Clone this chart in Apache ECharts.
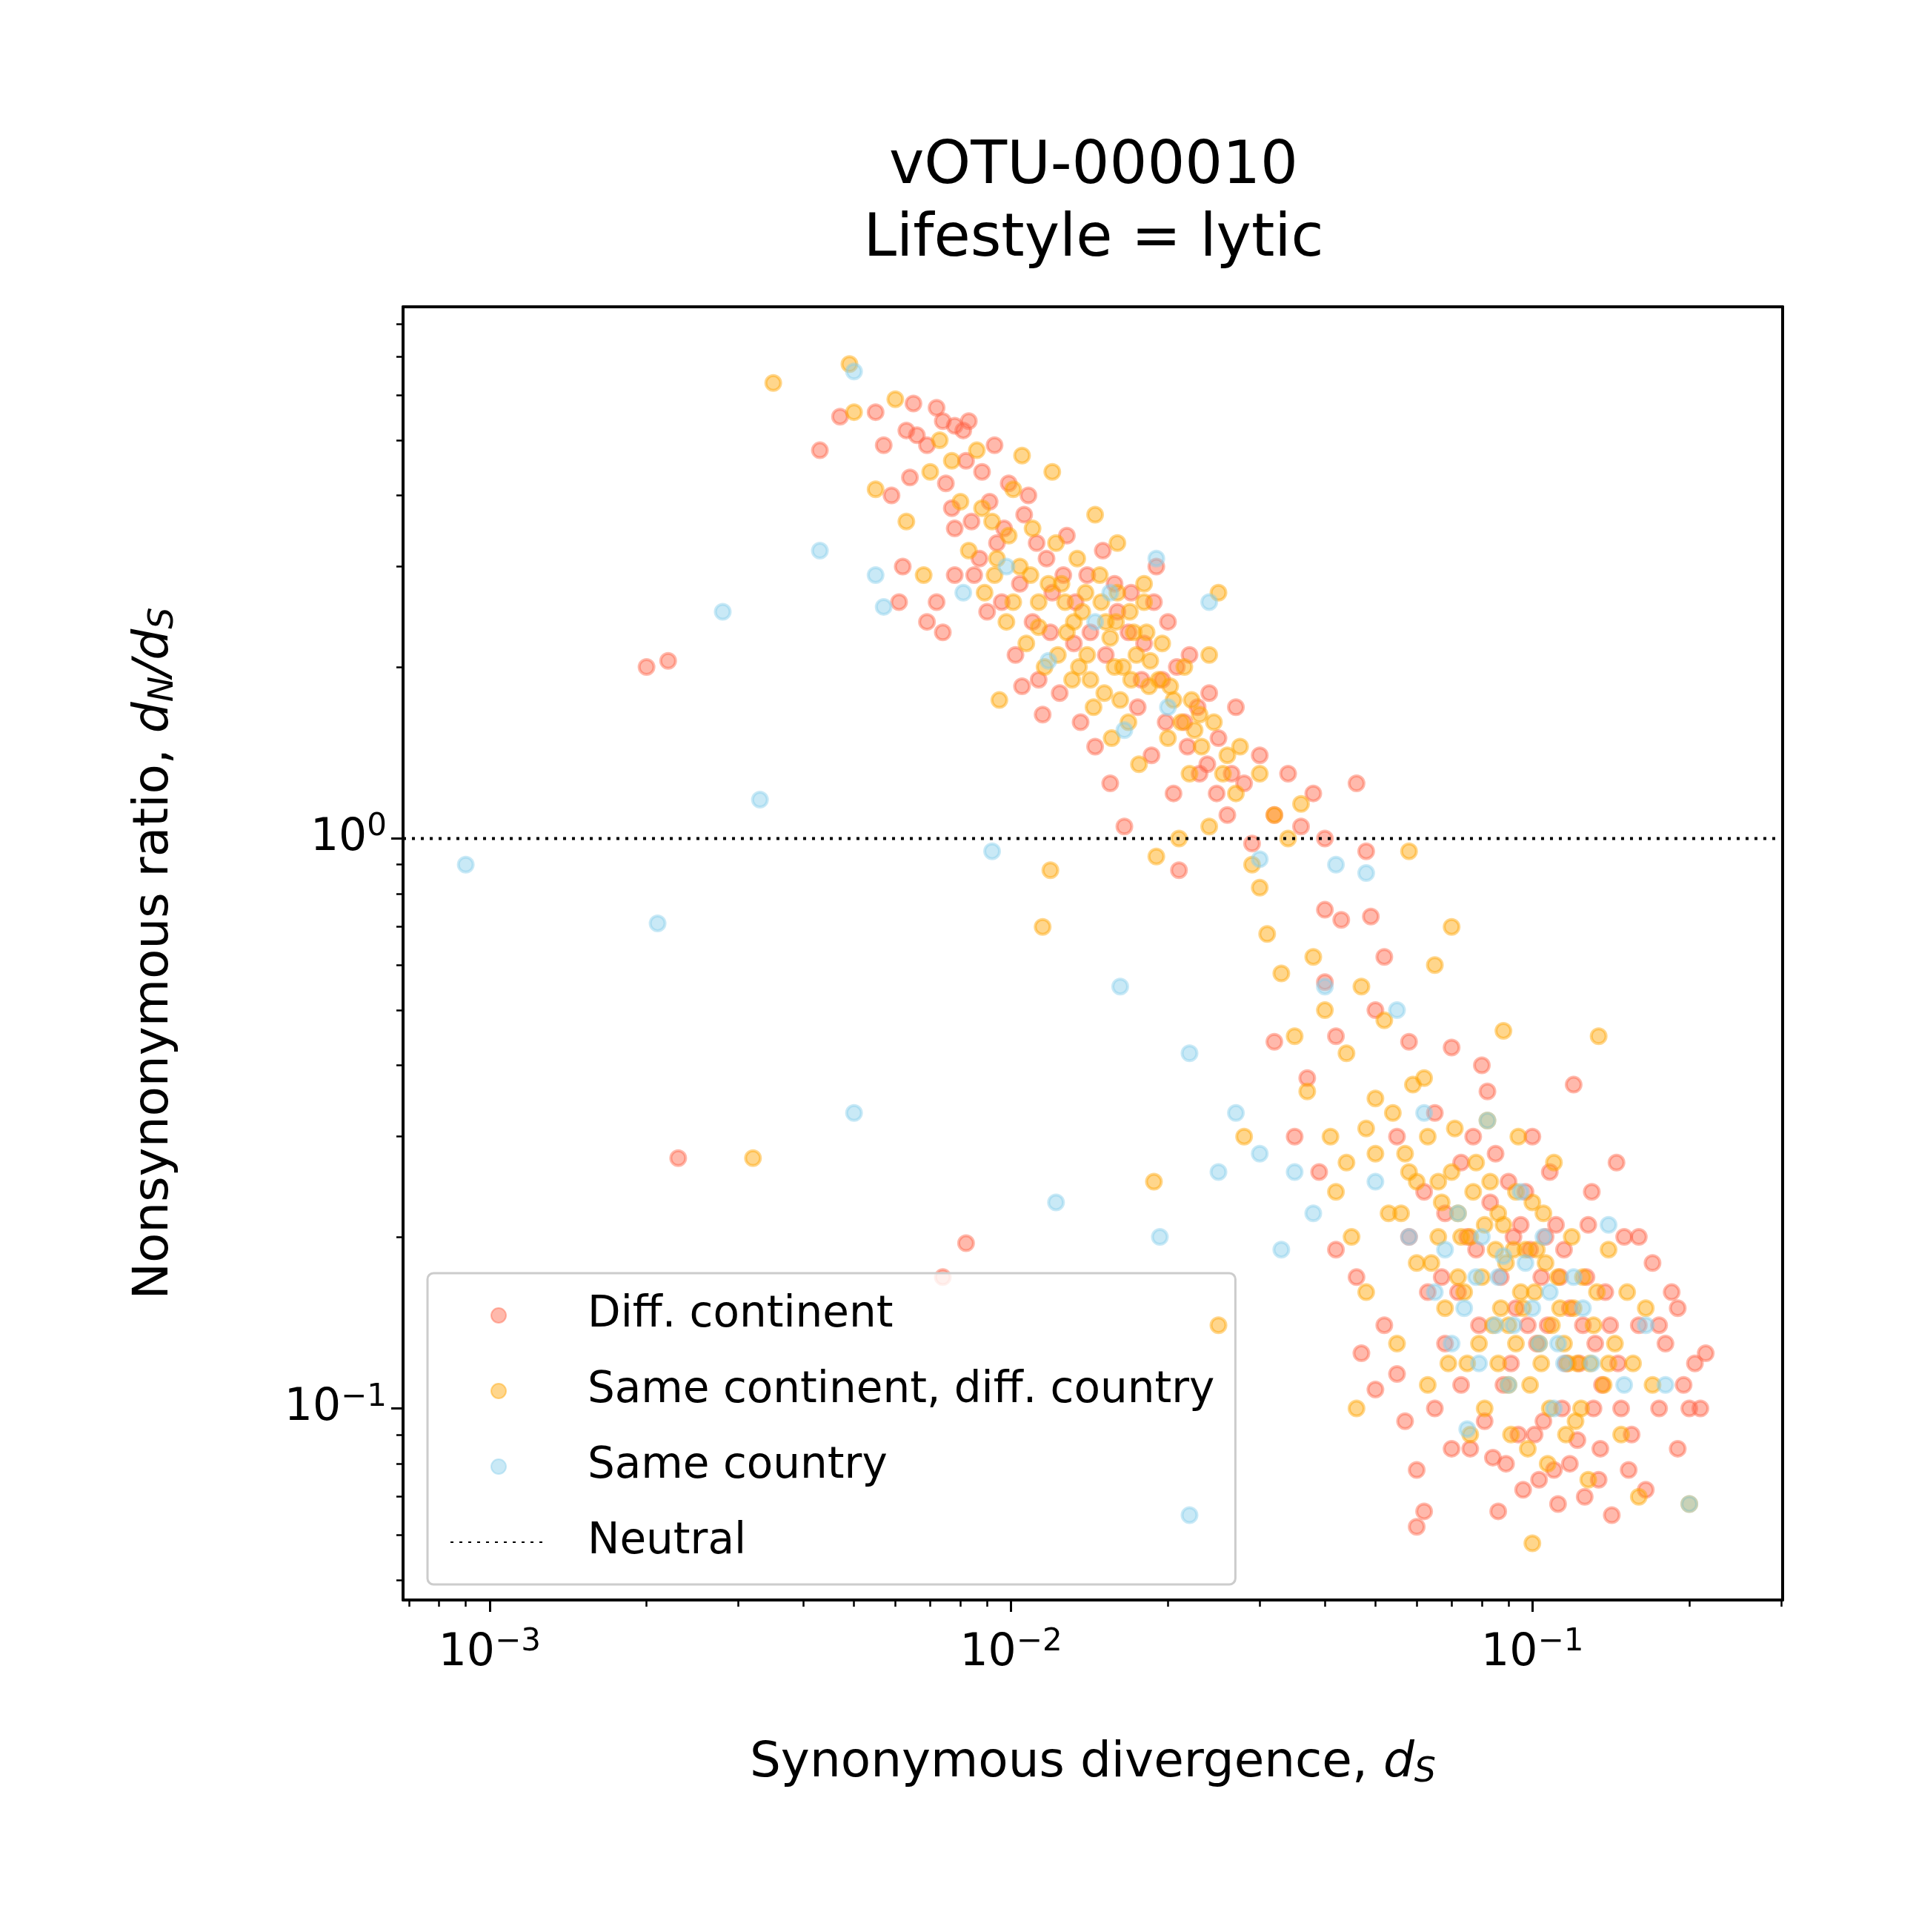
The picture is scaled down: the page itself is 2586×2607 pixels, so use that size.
<!DOCTYPE html>
<html><head><meta charset="utf-8">
<script src="https://cdn.jsdelivr.net/npm/echarts@6/dist/echarts.min.js"></script>
<style>html,body{margin:0;background:#fff}#c{width:2586px;height:2607px}</style>
</head><body><div id="c"></div>
<script>
// [dS, dN/dS]
var diffContinent = [
[0.002,2.0],[0.0022,2.05],[0.0023,0.275],[0.0043,4.8],[0.0047,5.5],[0.0055,5.6],[0.0057,4.9],[0.0059,4.0],[0.0061,2.6],[0.0062,3.0],
[0.0065,5.8],[0.0066,5.1],[0.0069,4.9],[0.0072,5.7],[0.0074,5.4],[0.0075,4.2],[0.0077,3.8],[0.0078,5.3],[0.0081,5.2],[0.0083,5.4],
[0.0072,2.6],[0.0074,2.3],[0.0078,3.5],[0.0082,4.6],[0.0085,2.9],[0.0088,4.4],[0.0091,3.9],[0.0094,3.3],[0.0096,2.6],[0.0099,4.2],
[0.0102,2.1],[0.0106,3.7],[0.011,2.4],[0.0113,1.9],[0.0117,3.1],[0.012,2.7],[0.0124,1.8],[0.0128,3.4],[0.0132,2.2],[0.0136,1.6],
[0.014,2.9],[0.0145,1.45],[0.015,3.2],[0.0155,1.25],[0.016,2.5],[0.0165,1.05],[0.017,2.7],[0.0175,1.7],[0.018,2.2],[0.0186,1.4],
[0.019,3.0],[0.0195,1.9],[0.02,2.4],[0.0205,1.2],[0.021,0.88],[0.0215,1.6],[0.022,2.1],[0.023,1.3],[0.024,1.8],[0.025,1.5],
[0.026,1.1],[0.027,1.7],[0.028,1.25],[0.029,0.98],[0.03,1.4],[0.032,1.1],[0.034,1.3],[0.036,1.05],[0.038,1.2],[0.04,1.0],
[0.046,1.25],[0.048,0.95],[0.04,0.75],[0.043,0.72],[0.049,0.73],[0.052,0.62],[0.05,0.5],[0.04,0.56],[0.042,0.45],[0.037,0.38],
[0.032,0.44],[0.035,0.3],[0.039,0.26],[0.042,0.19],[0.046,0.17],[0.047,0.125],[0.05,0.108],[0.052,0.14],[0.055,0.115],[0.057,0.095],
[0.06,0.078],[0.06,0.062],[0.062,0.066],[0.065,0.1],[0.068,0.13],[0.07,0.085],[0.072,0.16],[0.075,0.2],[0.077,0.3],[0.08,0.4],
[0.082,0.36],[0.084,0.082],[0.086,0.066],[0.088,0.11],[0.09,0.25],[0.093,0.15],[0.096,0.072],[0.099,0.19],[0.102,0.13],[0.105,0.095],
[0.108,0.26],[0.11,0.078],[0.113,0.17],[0.116,0.12],[0.12,0.37],[0.122,0.088],[0.125,0.14],[0.128,0.21],[0.131,0.1],[0.134,0.075],
[0.138,0.16],[0.142,0.065],[0.146,0.12],[0.15,0.2],[0.155,0.09],[0.16,0.14],[0.165,0.072],[0.17,0.18],[0.175,0.1],[0.18,0.13],
[0.185,0.16],[0.19,0.085],[0.195,0.11],[0.2,0.1],[0.205,0.12],[0.21,0.1],[0.215,0.125],[0.19,0.15],[0.175,0.14],[0.16,0.2],
[0.0074,0.17],[0.0082,0.195],[0.145,0.27],[0.13,0.24],[0.1,0.3],[0.065,0.33],[0.058,0.44],[0.07,0.43],[0.055,0.3],[0.062,0.24],
[0.0087,3.1],[0.0093,4.9],[0.0104,2.8],[0.0112,3.3],[0.0119,2.3],[0.0126,2.9],[0.0133,2.6],[0.0142,2.3],[0.0152,2.1],[0.0158,2.8],
[0.0168,2.3],[0.0178,1.9],[0.0188,2.6],[0.0198,1.6],[0.0208,2.0],[0.0218,1.45],[0.0228,1.7],[0.0238,1.35],[0.0248,1.2],[0.0265,1.3],
[0.0078,2.9],[0.0084,3.6],[0.009,2.5],[0.0097,3.5],[0.0108,4.0],[0.0064,4.3],[0.0063,5.2],[0.0069,2.4],[0.0105,1.85],[0.0115,1.65],
[0.067,0.17],[0.073,0.11],[0.079,0.14],[0.083,0.23],[0.087,0.17],[0.091,0.12],[0.095,0.21],[0.098,0.14],[0.101,0.09],[0.104,0.17],
[0.107,0.14],[0.111,0.21],[0.114,0.1],[0.118,0.15],[0.123,0.12],[0.127,0.17],[0.132,0.13],[0.136,0.11],[0.141,0.14],[0.148,0.1],
[0.076,0.085],[0.081,0.095],[0.089,0.08],[0.094,0.09],[0.103,0.075],[0.112,0.068],[0.118,0.08],[0.126,0.07],[0.135,0.085],[0.153,0.078],
[0.058,0.2],[0.063,0.16],[0.068,0.22],[0.073,0.27],[0.078,0.19],[0.085,0.28],[0.092,0.2],[0.097,0.24],[0.106,0.2],[0.115,0.19]
];
var sameContinent = [
[0.0032,0.275],[0.0035,6.3],[0.0049,6.8],[0.005,5.6],[0.0055,4.1],[0.006,5.9],[0.0063,3.6],[0.0068,2.9],[0.007,4.4],[0.0073,5.0],
[0.0077,4.6],[0.008,3.9],[0.0083,3.2],[0.0086,4.8],[0.0089,2.7],[0.0092,3.6],[0.0095,1.75],[0.0098,2.4],[0.0101,4.1],[0.0104,3.0],
[0.0107,2.2],[0.011,3.5],[0.0113,2.6],[0.0116,2.0],[0.0119,0.88],[0.0115,0.7],[0.0122,3.3],[0.0125,2.8],[0.0128,2.3],[0.0131,1.9],
[0.0134,3.1],[0.0137,2.5],[0.014,2.1],[0.0144,1.7],[0.0148,2.9],[0.0152,2.4],[0.0156,1.5],[0.016,2.7],[0.0164,2.0],[0.0168,1.6],
[0.0172,2.3],[0.0176,1.35],[0.018,2.6],[0.0184,1.85],[0.0188,0.25],[0.019,0.93],[0.0195,2.2],[0.02,1.5],[0.0205,1.75],[0.021,1.0],
[0.0215,2.0],[0.022,1.3],[0.023,1.65],[0.024,1.05],[0.025,2.7],[0.025,0.14],[0.026,1.4],[0.027,1.2],[0.028,0.3],[0.029,0.9],
[0.03,1.3],[0.03,0.82],[0.031,0.68],[0.032,1.1],[0.033,0.58],[0.034,1.0],[0.035,0.45],[0.036,1.15],[0.037,0.36],[0.038,0.62],
[0.04,0.5],[0.041,0.3],[0.042,0.24],[0.044,0.42],[0.045,0.2],[0.046,0.1],[0.047,0.55],[0.048,0.16],[0.05,0.35],[0.052,0.48],
[0.053,0.22],[0.055,0.13],[0.057,0.28],[0.058,0.95],[0.06,0.18],[0.062,0.38],[0.063,0.11],[0.065,0.6],[0.066,0.25],[0.068,0.15],
[0.07,0.7],[0.071,0.31],[0.073,0.2],[0.075,0.12],[0.076,0.09],[0.078,0.27],[0.08,0.17],[0.082,0.32],[0.084,0.14],[0.086,0.22],
[0.088,0.46],[0.09,0.11],[0.092,0.19],[0.094,0.3],[0.096,0.15],[0.098,0.085],[0.1,0.058],[0.1,0.23],[0.103,0.13],[0.106,0.18],
[0.108,0.1],[0.11,0.27],[0.113,0.15],[0.116,0.09],[0.119,0.2],[0.122,0.12],[0.125,0.17],[0.128,0.075],[0.131,0.14],[0.134,0.45],
[0.137,0.11],[0.14,0.19],[0.144,0.13],[0.148,0.09],[0.152,0.16],[0.156,0.12],[0.16,0.07],[0.165,0.15],[0.17,0.11],[0.2,0.068],
[0.018,2.8],[0.016,3.3],[0.0145,3.7],[0.012,4.4],[0.0105,4.7],[0.0135,2.0],[0.017,1.9],[0.0225,1.55],[0.024,2.1],[0.0155,2.25],
[0.077,0.24],[0.085,0.19],[0.095,0.16],[0.105,0.22],[0.115,0.13],[0.09,0.14],[0.074,0.16],[0.066,0.2],[0.058,0.26],[0.07,0.26],
[0.0088,3.8],[0.0094,3.1],[0.0099,3.4],[0.0109,2.9],[0.0118,2.8],[0.0127,2.6],[0.0139,2.7],[0.0149,2.6],[0.0159,2.4],[0.0169,2.5],
[0.0174,2.1],[0.0182,2.3],[0.0192,1.9],[0.0202,1.85],[0.0212,1.6],[0.0222,1.75],[0.0232,1.45],[0.0245,1.6],[0.0255,1.3],[0.0275,1.45],
[0.0142,1.9],[0.0151,1.8],[0.0162,1.75],[0.0123,2.1],[0.0113,2.35],[0.0101,2.6],[0.0093,2.9],[0.0132,2.4],[0.0158,2.0],[0.0185,2.05],
[0.064,0.18],[0.069,0.12],[0.072,0.17],[0.079,0.13],[0.081,0.21],[0.087,0.15],[0.089,0.18],[0.093,0.13],[0.097,0.19],[0.099,0.11],
[0.101,0.16],[0.104,0.12],[0.109,0.14],[0.112,0.17],[0.117,0.12],[0.12,0.15],[0.124,0.1],[0.129,0.12],[0.133,0.16],[0.14,0.12],
[0.056,0.22],[0.06,0.25],[0.063,0.3],[0.067,0.23],[0.072,0.22],[0.076,0.2],[0.083,0.25],[0.088,0.21],[0.093,0.24],[0.102,0.19],
[0.05,0.28],[0.054,0.33],[0.059,0.37],[0.044,0.27],[0.048,0.31],[0.081,0.1],[0.086,0.12],[0.091,0.09],[0.107,0.08],[0.121,0.095]
];
var sameCountry = [
[0.0009,0.9],[0.0021,0.71],[0.0028,2.5],[0.0033,1.17],[0.0043,3.2],[0.005,0.33],[0.005,6.6],[0.0055,2.9],[0.0057,2.55],[0.0081,2.7],
[0.0092,0.95],[0.0098,3.0],[0.0118,2.05],[0.0122,0.23],[0.0145,2.4],[0.0155,2.7],[0.0162,0.55],[0.0165,1.55],[0.019,3.1],[0.0193,0.2],
[0.02,1.7],[0.022,0.42],[0.022,0.065],[0.024,2.6],[0.025,0.26],[0.027,0.33],[0.03,0.28],[0.03,0.92],[0.033,0.19],[0.035,0.26],
[0.038,0.22],[0.04,0.55],[0.042,0.9],[0.048,0.87],[0.05,0.25],[0.055,0.5],[0.058,0.2],[0.062,0.33],[0.065,0.16],[0.07,0.13],
[0.072,0.22],[0.075,0.092],[0.078,0.17],[0.08,0.2],[0.082,0.32],[0.085,0.14],[0.088,0.185],[0.09,0.11],[0.095,0.24],[0.1,0.15],
[0.105,0.2],[0.11,0.1],[0.112,0.13],[0.12,0.17],[0.13,0.12],[0.14,0.21],[0.15,0.11],[0.165,0.14],[0.18,0.11],[0.2,0.068],
[0.068,0.19],[0.074,0.15],[0.079,0.12],[0.086,0.17],[0.092,0.14],[0.097,0.18],[0.103,0.13],[0.108,0.16],[0.115,0.12],[0.125,0.15]
];
var xMajor = [-3, -2, -1];
var yMajor = [-1, 0];
var sup = {'-3':'−3','-2':'−2','-1':'−1','0':'0'};

function minorTicks(lo, hi) {
  var out = [];
  for (var e = lo; e <= hi; e++) for (var m = 2; m <= 9; m++) out.push(e + Math.log10(m));
  return out;
}
function lg(arr) { return arr.map(function (p) { return [Math.log10(p[0]), Math.log10(p[1])]; }); }
function powLabel(v) { var k = String(Math.round(v)); return '{b|10}{s|' + sup[k] + '}'; }

var xmin = -3.166, xmax = -0.52, ymin = -1.336, ymax = 0.933;
var labelRich = { b: { fontSize: 60, fontFamily: 'DejaVu Sans', color: '#000' }, s: { fontSize: 42, fontFamily: 'DejaVu Sans', color: '#000', verticalAlign: 'top', padding: [0, 0, 30, 0] } };
var nameRich = { n: { fontSize: 66, fontFamily: 'DejaVu Sans', color: '#000' }, i: { fontSize: 66, fontStyle: 'italic', fontFamily: 'DejaVu Sans', color: '#000' }, sb: { fontSize: 46, fontStyle: 'italic', fontFamily: 'DejaVu Sans', color: '#000', verticalAlign: 'bottom', padding: [25, 0, 0, 0] } };

function mkScatter(name, data, color, z) {
  return {
    name: name, type: 'scatter', data: lg(data), symbolSize: 20, z: z,
    itemStyle: { color: color, opacity: 0.45, borderColor: color, borderWidth: 4 }
  };
}
var chart = echarts.init(document.getElementById('c'));
chart.setOption({
  backgroundColor: '#fff',
  animation: false,
  title: {
    text: 'vOTU-000010\nLifestyle = lytic', left: 1471, top: 172, textAlign: 'center',
    textStyle: { fontSize: 80, fontWeight: 'normal', fontFamily: 'DejaVu Sans', lineHeight: 98, color: '#000' }
  },
  grid: { left: 544, right: 180, top: 414, bottom: 448 },
  xAxis: [{
    type: 'value', min: xmin, max: xmax,
    axisLine: { onZero: false, lineStyle: { color: '#000', width: 4 } },
    splitLine: { show: false },
    axisTick: { customValues: xMajor, length: 16, lineStyle: { width: 3, color: '#000' } },
    axisLabel: { customValues: xMajor, formatter: powLabel, rich: labelRich, margin: 36 },
    name: '{n|Synonymous divergence, }{i|d}{sb|S}', nameLocation: 'middle', nameGap: 185,
    nameTextStyle: { rich: nameRich }
  }, {
    type: 'value', min: xmin, max: xmax, position: 'bottom',
    axisLine: { show: false, onZero: false }, splitLine: { show: false },
    axisTick: { customValues: minorTicks(-4, -1).filter(function (v) { return v > xmin && v < xmax; }), length: 9, lineStyle: { width: 2.5, color: '#000' } },
    axisLabel: { show: false }
  }, {
    type: 'value', min: xmin, max: xmax, position: 'top',
    axisLine: { onZero: false, lineStyle: { color: '#000', width: 4 } }, axisTick: { show: false }, axisLabel: { show: false }, splitLine: { show: false }
  }],
  yAxis: [{
    type: 'value', min: ymin, max: ymax,
    axisLine: { onZero: false, lineStyle: { color: '#000', width: 4 } },
    splitLine: { show: false },
    axisTick: { customValues: yMajor, length: 16, lineStyle: { width: 3, color: '#000' } },
    axisLabel: { customValues: yMajor, formatter: powLabel, rich: labelRich, margin: 22 },
    name: '{n|Nonsynonymous ratio, }{i|d}{sb|N}{i|/d}{sb|S}', nameLocation: 'middle', nameGap: 300, nameRotate: 90,
    nameTextStyle: { rich: nameRich }
  }, {
    type: 'value', min: ymin, max: ymax, position: 'left',
    axisLine: { show: false, onZero: false }, splitLine: { show: false },
    axisTick: { customValues: minorTicks(-2, 0).filter(function (v) { return v > ymin && v < ymax; }), length: 9, lineStyle: { width: 2.5, color: '#000' } },
    axisLabel: { show: false }
  }, {
    type: 'value', min: ymin, max: ymax, position: 'right',
    axisLine: { onZero: false, lineStyle: { color: '#000', width: 4 } }, axisTick: { show: false }, axisLabel: { show: false }, splitLine: { show: false }
  }],
  legend: {
    left: 577, top: 1718, orient: 'vertical',
    padding: [28, 28, 28, 30], itemGap: 44, itemWidth: 130, itemHeight: 20,
    backgroundColor: 'rgba(255,255,255,0.8)', borderColor: '#ccc', borderWidth: 3, borderRadius: 8,
    textStyle: { fontSize: 58, fontFamily: 'DejaVu Sans', color: '#000', padding: [0, 0, 0, 50] },
    data: [
      { name: 'Diff. continent', icon: 'circle' },
      { name: 'Same continent, diff. country', icon: 'circle' },
      { name: 'Same country', icon: 'circle' },
      { name: 'Neutral', itemStyle: { opacity: 0 } }
    ]
  },
  series: [
    mkScatter('Diff. continent', diffContinent, '#FF6347', 3),
    mkScatter('Same continent, diff. country', sameContinent, '#FFA500', 4),
    mkScatter('Same country', sameCountry, '#87CEEB', 5),
    {
      name: 'Neutral', type: 'line', data: [[xmin, 0], [xmax, 0]], symbol: 'none', z: 6,
      lineStyle: { color: '#000', width: 4, type: [4, 8] }, itemStyle: { color: '#000' }
    }
  ]
});
</script></body></html>
